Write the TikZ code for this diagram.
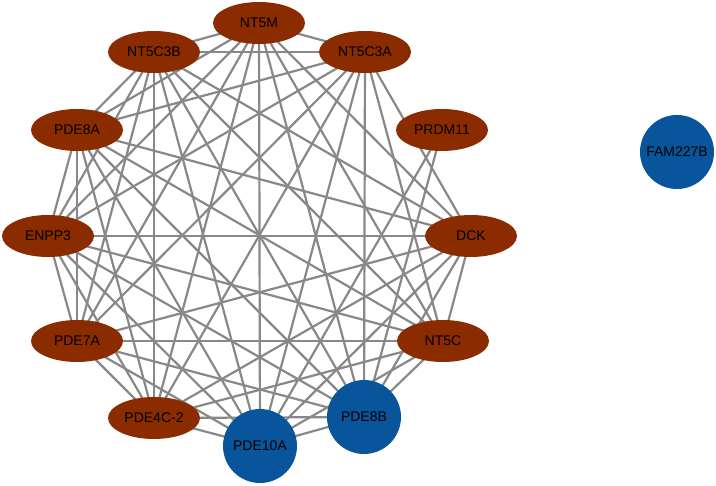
\documentclass[tikz,border=0pt]{standalone}
\usepackage{fontspec}
\setmainfont{Liberation Sans}
\usetikzlibrary{shapes.geometric,backgrounds}
\definecolor{nodebrown}{RGB}{139,44,0}
\definecolor{nodeblue}{RGB}{8,85,155}
\definecolor{edgegray}{RGB}{136,136,136}
\tikzset{
  ebox/.style={ellipse,fill=nodebrown,minimum width=92pt,minimum height=42pt,inner sep=0pt,font=\fontsize{14}{15}\selectfont,text=black},
  cbox/.style={circle,fill=nodeblue,minimum size=74pt,inner sep=0pt,font=\fontsize{14}{15}\selectfont,text=black},
  link/.style={draw=edgegray,line width=2.2pt}
}
\begin{document}
\begin{tikzpicture}[x=1pt,y=-1pt]
\useasboundingbox (0,0) rectangle (716,486);
\node[ebox] (nt5m) at (259,23) {NT5M};
\node[ebox] (nt5c3b) at (154,52) {NT5C3B};
\node[ebox] (nt5c3a) at (365,52) {NT5C3A};
\node[ebox] (pde8a) at (77,130) {PDE8A};
\node[ebox] (prdm11) at (442,130) {PRDM11};
\node[ebox] (enpp3) at (48,236) {ENPP3};
\node[ebox] (dck) at (471,236) {DCK};
\node[ebox] (pde7a) at (77,341) {PDE7A};
\node[ebox] (nt5c) at (443,341) {NT5C};
\node[ebox] (pde4c) at (154,418) {PDE4C-2};
\node[cbox] (pde8b) at (364,417) {PDE8B};
\node[cbox] (pde10a) at (260,446) {PDE10A};
\node[cbox] (fam) at (677,152) {FAM227B};
\begin{pgfonlayer}{background}
\foreach \a [count=\i] in {dck,nt5c3a,nt5m,nt5c3b,pde8a,enpp3,pde7a,pde4c,pde10a,pde8b,nt5c}{
  \foreach \b [count=\j] in {dck,nt5c3a,nt5m,nt5c3b,pde8a,enpp3,pde7a,pde4c,pde10a,pde8b,nt5c}{
    \ifnum\j>\i \draw[link] (\a.center) -- (\b.center); \fi
  }
}
\draw[link] (prdm11.center) -- (pde10a.center);
\draw[link] (prdm11.center) -- (pde8b.center);
\end{pgfonlayer}
\end{tikzpicture}
\end{document}
